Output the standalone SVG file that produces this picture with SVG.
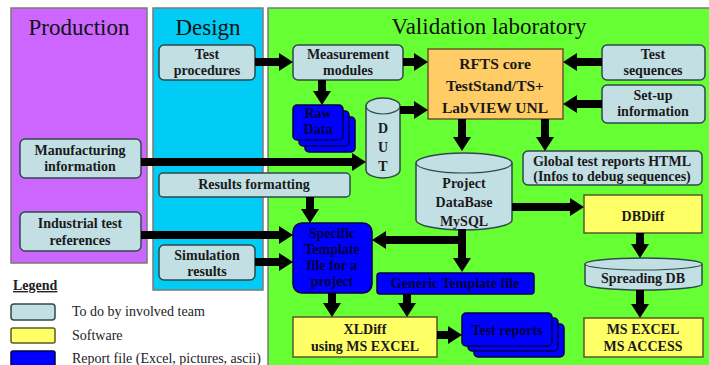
<svg xmlns="http://www.w3.org/2000/svg" width="709" height="365" viewBox="0 0 709 365">
<style>
.panel{stroke:#7a7a7a;stroke-width:1.5}
.title{font-family:"Liberation Serif","Times New Roman","DejaVu Serif",serif;font-size:23px;fill:#111;text-anchor:middle}
.task{fill:#c2dfe4;stroke:#2f4a4a;stroke-width:1.5}
.soft{fill:#ffff66;stroke:#5a5a2a;stroke-width:1.5}
.core{fill:#ffcc66;stroke:#6a5a2a;stroke-width:1.5}
.rep{fill:#0000ff;stroke:#00004a;stroke-width:1.5}
.t{font-family:"Liberation Serif","Times New Roman","DejaVu Serif",serif;font-weight:bold;font-size:14px;fill:#1a1a1a;text-anchor:middle}
.tb{font-family:"Liberation Serif","Times New Roman","DejaVu Serif",serif;font-weight:bold;font-size:14px;fill:#00003a;text-anchor:middle}
.big{font-size:15.5px}
.leg{font-family:"Liberation Serif","Times New Roman","DejaVu Serif",serif;font-size:14px;fill:#222}
.arr{stroke:#000;stroke-width:8;fill:none;marker-end:url(#ah)}
</style>
<defs>
<marker id="ah" markerUnits="userSpaceOnUse" markerWidth="14" markerHeight="20" refX="1" refY="10" orient="auto">
<path d="M0,1 L14,10 L0,19 Z" fill="#000"/>
</marker>
</defs>
<rect width="709" height="365" fill="#fff"/>
<g id="panel-production"><rect class="panel" x="11" y="8" width="136" height="255" fill="#cc66ff"/><text class="title" x="79" y="35">Production</text></g>
<g id="panel-design"><rect class="panel" x="153" y="8" width="110" height="282" fill="#00ccf5"/><text class="title" x="208" y="35">Design</text></g>
<g id="panel-validation"><rect class="panel" x="268" y="8" width="445" height="362" fill="#66ff33"/><text class="title" x="489" y="34">Validation laboratory</text></g>

<g id="test-procedures"><rect class="task" x="159" y="45" width="96" height="35" rx="5"/><text class="t" x="207" y="59">Test</text><text class="t" x="207" y="75">procedures</text></g>
<g id="measurement-modules"><rect class="task" x="293" y="45" width="110" height="35" rx="5"/><text class="t" x="348" y="59">Measurement</text><text class="t" x="348" y="75">modules</text></g>
<g id="rfts-core"><rect class="core" x="428" y="49" width="135" height="70"/><text class="t big" x="495" y="69">RFTS core</text><text class="t big" x="495" y="91">TestStand/TS+</text><text class="t big" x="495" y="113">LabVIEW UNL</text></g>
<g id="test-sequences"><rect class="task" x="602" y="45" width="103" height="35" rx="5"/><text class="t" x="653" y="59">Test</text><text class="t" x="653" y="75">sequences</text></g>
<g id="setup-information"><rect class="task" x="602" y="85" width="103" height="38" rx="5"/><text class="t" x="653" y="100">Set-up</text><text class="t" x="653" y="116">information</text></g>
<g id="raw-data"><rect class="rep" x="305" y="117" width="50" height="35" rx="4"/><rect class="rep" x="299" y="111" width="50" height="35" rx="4"/><rect class="rep" x="293" y="105" width="50" height="35" rx="4"/><text class="tb" x="318" y="118">Raw</text><text class="tb" x="318" y="134">Data</text></g>
<g id="dut"><path class="task" d="M366,106 A17,8 0 0 1 400,106 L400,170 A17,8 0 0 1 366,170 Z"/><path d="M366,106 A17,8 0 0 0 400,106" fill="none" stroke="#2f4a4a" stroke-width="1.2"/><text class="t" x="383" y="133">D</text><text class="t" x="383" y="152">U</text><text class="t" x="383" y="171">T</text></g>
<g id="manufacturing-information"><rect class="task" x="20" y="139" width="121" height="39" rx="5"/><text class="t" x="80" y="155">Manufacturing</text><text class="t" x="80" y="171">information</text></g>
<g id="industrial-test-references"><rect class="task" x="20" y="212" width="121" height="39" rx="5"/><text class="t" x="80" y="228">Industrial test</text><text class="t" x="80" y="245">references</text></g>
<g id="results-formatting"><rect class="task" x="159" y="173" width="191" height="24" rx="4"/><text class="t" x="254" y="189">Results formatting</text></g>
<g id="simulation-results"><rect class="task" x="159" y="245" width="96" height="35" rx="5"/><text class="t" x="207" y="260">Simulation</text><text class="t" x="207" y="276">results</text></g>
<g id="project-database"><path class="task" d="M416,163 A48,10 0 0 1 512,163 L512,220 A48,10 0 0 1 416,220 Z"/><path d="M416,163 A48,10 0 0 0 512,163" fill="none" stroke="#2f4a4a" stroke-width="1.2"/><text class="t" x="464" y="188">Project</text><text class="t" x="464" y="207">DataBase</text><text class="t" x="464" y="226">MySQL</text></g>
<g id="global-test-reports"><rect class="task" x="523" y="151" width="179" height="34" rx="5"/><text class="t" x="612" y="166">Global test reports HTML</text><text class="t" x="612" y="181">(Infos to debug sequences)</text></g>
<g id="dbdiff"><rect class="soft" x="584" y="195" width="118" height="38"/><text class="t" x="643" y="221">DBDiff</text></g>
<g id="specific-template"><rect class="rep" x="293" y="223" width="79" height="70" rx="9"/><text class="tb" x="332" y="238">Specific</text><text class="tb" x="332" y="254">Template</text><text class="tb" x="332" y="270">file for a</text><text class="tb" x="332" y="286">project</text></g>
<g id="generic-template"><rect class="rep" x="377" y="273" width="157" height="21" rx="3"/><text class="tb" x="455" y="288">Generic Template file</text></g>
<g id="spreading-db"><path class="task" d="M585,264 A58.5,6 0 0 1 702,264 L702,284 A58.5,6 0 0 1 585,284 Z"/><path d="M585,264 A58.5,6 0 0 0 702,264" fill="none" stroke="#2f4a4a" stroke-width="1.2"/><text class="t" x="643" y="283">Spreading DB</text></g>
<g id="ms-excel-access"><rect class="soft" x="584" y="318" width="119" height="39"/><text class="t" x="643" y="334">MS EXCEL</text><text class="t" x="643" y="351">MS ACCESS</text></g>
<g id="xldiff"><rect class="soft" x="293" y="317" width="144" height="40"/><text class="t" x="365" y="334">XLDiff</text><text class="t" x="365" y="351">using MS EXCEL</text></g>
<g id="test-reports"><rect class="rep" x="474" y="324" width="90" height="33" rx="4"/><rect class="rep" x="468" y="318" width="90" height="33" rx="4"/><rect class="rep" x="462" y="313" width="90" height="33" rx="4"/><text class="tb" x="507" y="335">Test reports</text></g>

<g id="legend">
<text x="13" y="290" style="font-family:'Liberation Serif','Times New Roman','DejaVu Serif',serif;font-weight:bold;font-size:14px;fill:#222;text-decoration:underline">Legend</text>
<rect class="task" x="11" y="304" width="44" height="16" rx="3"/><text class="leg" x="72" y="316">To do by involved team</text>
<rect class="soft" x="11" y="328" width="44" height="15" rx="2"/><text class="leg" x="72" y="340">Software</text>
<rect class="rep" x="11" y="351" width="44" height="16" rx="2"/><text class="leg" x="72" y="363">Report file (Excel, pictures, ascii)</text>
</g>

<g id="connectors">
<line class="arr" x1="255" y1="62" x2="280" y2="62"/>
<line class="arr" x1="403" y1="62" x2="415" y2="62"/>
<line class="arr" x1="602" y1="62" x2="576" y2="62"/>
<line class="arr" x1="602" y1="104" x2="576" y2="104"/>
<line class="arr" x1="400" y1="110" x2="415" y2="110"/>
<line class="arr" x1="322" y1="80" x2="322" y2="92"/>
<line class="arr" x1="462" y1="119" x2="462" y2="138"/>
<line class="arr" x1="545" y1="119" x2="545" y2="138"/>
<line class="arr" x1="141" y1="162" x2="353" y2="162"/>
<line class="arr" x1="310" y1="197" x2="310" y2="210"/>
<line class="arr" x1="141" y1="235" x2="280" y2="235"/>
<line class="arr" x1="255" y1="262" x2="280" y2="262"/>
<line class="arr" x1="462" y1="229" x2="462" y2="259"/>
<line class="arr" x1="466" y1="240" x2="385" y2="240"/>
<line class="arr" x1="512" y1="207" x2="571" y2="207"/>
<line class="arr" x1="640" y1="233" x2="640" y2="245"/>
<line class="arr" x1="640" y1="290" x2="640" y2="305"/>
<line class="arr" x1="332" y1="293" x2="332" y2="304"/>
<line class="arr" x1="407" y1="294" x2="407" y2="304"/>
<line class="arr" x1="437" y1="335" x2="449" y2="335"/>
</g>
</svg>
